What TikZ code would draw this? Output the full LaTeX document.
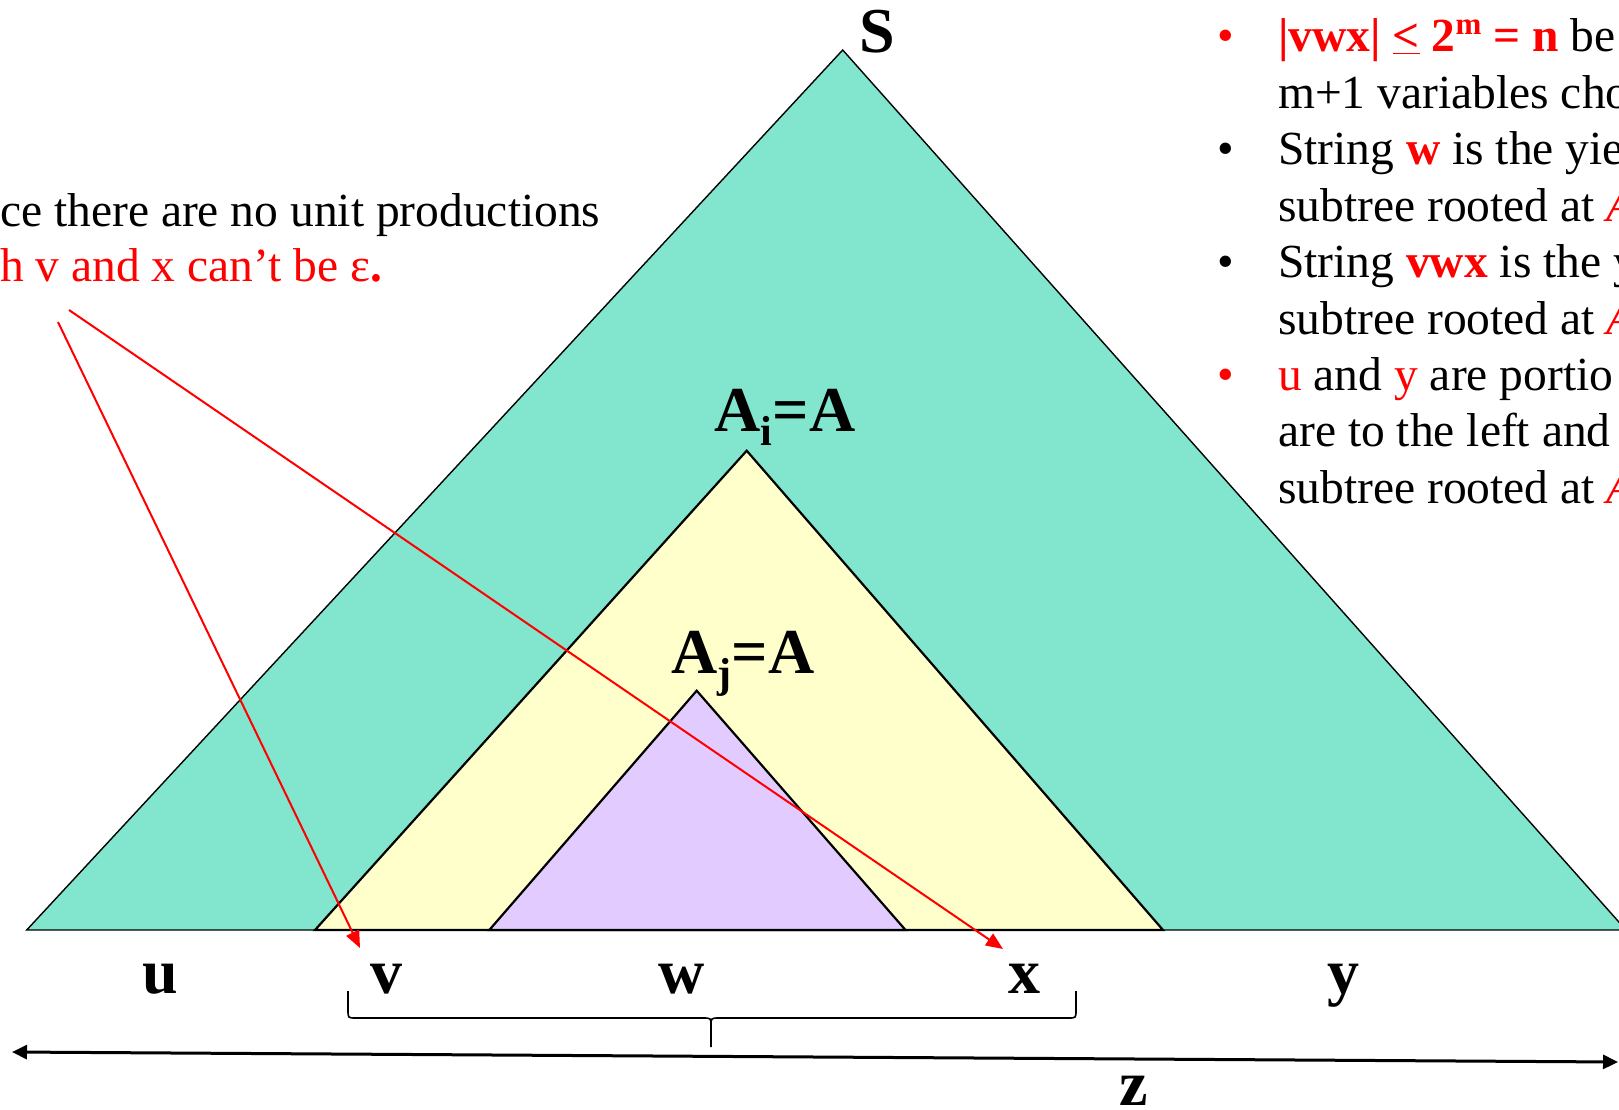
\documentclass[tikz,border=0pt]{standalone}
\usepackage{fontspec}
\setmainfont{Liberation Serif}
\definecolor{TreeTeal}{HTML}{82E5CE}
\definecolor{SubYellow}{HTML}{FFFFCC}
\definecolor{InnerLilac}{HTML}{E2CCFF}
\definecolor{NoteRed}{HTML}{FF0000}
\usetikzlibrary{arrows.meta, decorations.pathreplacing, positioning}

\begin{document}
\begin{tikzpicture}[x=1pt, y=-1pt,
  tri/.style={draw=black, line width=2.2pt, line join=miter},
  sym/.style={font=\fontsize{64}{64}\selectfont\bfseries, anchor=base, inner sep=0pt},
  note/.style={font=\fontsize{47.5}{56}\selectfont, anchor=base west, inner sep=0pt},
  bulletmark/.style={font=\fontsize{47.5}{56}\selectfont, anchor=base, inner sep=0pt},
  hint/.style={draw=NoteRed, line width=2pt, -{Triangle[length=17pt,width=14pt]}},
  yieldspan/.style={draw=black, line width=3pt,
    {Triangle[length=15pt,width=14pt]}-{Triangle[length=15pt,width=14pt]}},
  bracepath/.style={draw=black, line width=1.6pt},
]
\useasboundingbox (0,0) rectangle (1619,1110);
\clip (0,0) rectangle (1619,1110);

% the whole tree and the two subtrees rooted at A
\coordinate (top) at (842.7,50);
\coordinate (topL) at (26.7,930);
\coordinate (topR) at (1626,930);
\coordinate (ai) at (746.7,450.7);
\coordinate (aiL) at (315,930);
\coordinate (aiR) at (1163,930);
\coordinate (aj) at (696.7,690.7);
\coordinate (ajL) at (489.3,930);
\coordinate (ajR) at (905.5,930);
\filldraw[tri, line width=1.4pt, fill=TreeTeal] (top) -- (topL) -- (topR) -- cycle;
\filldraw[tri, fill=SubYellow] (ai) -- (aiL) -- (aiR) -- cycle;
\filldraw[tri, fill=InnerLilac] (aj) -- (ajL) -- (ajR) -- cycle;

\node[sym] (lS) at (877,53) {S};
\node[sym] (lAi) at (785,431) {A\raisebox{-14pt}{\fontsize{42}{42}\selectfont i}=A};
\node[sym] (lAj) at (743,673) {A\raisebox{-14pt}{\fontsize{42}{42}\selectfont j}=A};

% pieces of the yield
\node[sym] (lu) at (160,993) {u};
\node[sym] (lv) at (386,993) {v};
\node[sym] (lw) at (681.5,993) {w};
\node[sym] (lx) at (1024,993) {x};
\node[sym] (ly) at (1343.5,993) {y};
\node[sym] (lz) at (1133.5,1105) {z};

% brace under v w x
\coordinate (braceL) at (348,991);
\coordinate (braceR) at (1076,991);
\coordinate (braceTip) at (711,1047);
\draw[bracepath] (braceL) -- (348,1010) .. controls (348,1018) .. (356,1018)
  -- (703,1018) .. controls (711,1018) .. (711,1026) -- (braceTip);
\draw[bracepath] (braceR) -- (1076,1010) .. controls (1076,1018) .. (1068,1018)
  -- (719,1018) .. controls (711,1018) .. (711,1026);

\coordinate (zL) at (12,1052);
\coordinate (zR) at (1618,1062);
\draw[yieldspan] (zL) -- (zR);

% remark on the left
\node[note] (why1) at (0,226.7) {ce there are no unit productions};
\node[note, text=NoteRed] (why2) at (0,281) {h v and x can’t be ε\textbf{.}};
\coordinate (hv0) at (58,322);
\coordinate (hx0) at (69,310);
\coordinate (hv1) at (360,948);
\coordinate (hx1) at (1003,949);
\draw[hint] (hv0) -- (hv1);
\draw[hint] (hx0) -- (hx1);

% notes on the right
\node[bulletmark, text=NoteRed] (b1) at (1226,52) {•};
\node[note] (n1) at (1278,52) {\textcolor{NoteRed}{\bfseries |vwx| \underline{<} 2\raisebox{17pt}{\fontsize{31}{31}\selectfont m} = n} be};
\node[note] (n2) at (1278,108.4) {m+1 variables cho};
\node[bulletmark] (b2) at (1226,164.8) {•};
\node[note] (n3) at (1278,164.8) {String \textcolor{NoteRed}{\bfseries w} is the yie};
\node[note] (n4) at (1278,221.2) {subtree rooted at \textcolor{NoteRed}{\itshape A}};
\node[bulletmark] (b3) at (1226,277.6) {•};
\node[note] (n5) at (1278,277.6) {String \textcolor{NoteRed}{\bfseries vwx} is the y};
\node[note] (n6) at (1278,334) {subtree rooted at \textcolor{NoteRed}{\itshape A}};
\node[bulletmark, text=NoteRed] (b4) at (1226,390.4) {•};
\node[note] (n7) at (1278,390.4) {\textcolor{NoteRed}{u} and \textcolor{NoteRed}{y} are portio};
\node[note] (n8) at (1278,446.8) {are to the left and};
\node[note] (n9) at (1278,503.2) {subtree rooted at \textcolor{NoteRed}{\itshape A}};
\end{tikzpicture}
\end{document}
